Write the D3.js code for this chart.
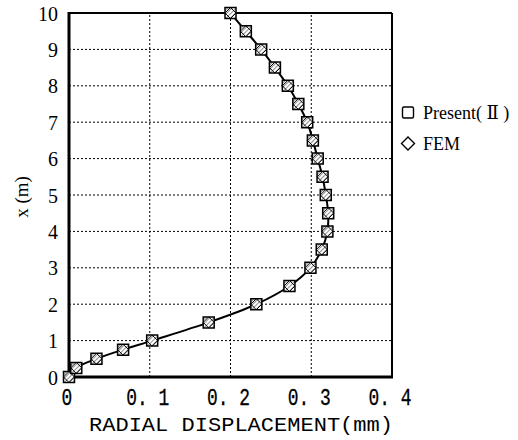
<!DOCTYPE html>
<html lang="en">
  <head>
    <meta charset="utf-8">
    <title>Radial displacement</title>
    <script src="https://d3js.org/d3.v7.min.js"></script>
    <style>
      body { margin: 0; background: #fff; }
    </style>
  </head>
  <body>
    <div id="chart"></div>
    <script type="text/javascript">
      // x (m) along the shell, radial displacement (mm)
      var depth = [0, 0.25, 0.5, 0.75, 1, 1.5, 2, 2.5, 3, 3.5, 4, 4.5, 5, 5.5, 6, 6.5, 7, 7.5, 8, 8.5, 9, 9.5, 10];
      var present = [0, 0.009, 0.034, 0.067, 0.103, 0.173, 0.232, 0.273, 0.299, 0.313, 0.320, 0.321, 0.318, 0.314, 0.308, 0.302, 0.295, 0.284, 0.271, 0.255, 0.238, 0.219, 0.200];
      var fem = [0, 0.009, 0.034, 0.067, 0.103, 0.173, 0.232, 0.273, 0.299, 0.313, 0.320, 0.321, 0.318, 0.314, 0.308, 0.302, 0.295, 0.284, 0.271, 0.255, 0.238, 0.219, 0.200];
      var xTicks = [0, 0.1, 0.2, 0.3, 0.4];
      var xTickLabels = ["0", "0. 1", "0. 2", "0. 3", "0. 4"];
      var yTicks = [0, 1, 2, 3, 4, 5, 6, 7, 8, 9, 10];
      var seriesNames = ["Present( \u2161 )", "FEM"];

      var width = 518,
          height = 440,
          margin = { top: 13, right: 126, bottom: 63, left: 69 },
          msize = 11;

      var svg = d3.select("#chart").append("svg")
                  .attr("width", width)
                  .attr("height", height);

      var defs = svg.append("defs");
      var pat = defs.append("pattern")
                    .attr("id", "hatch")
                    .attr("patternUnits", "userSpaceOnUse")
                    .attr("width", 3).attr("height", 3)
                    .attr("patternTransform", "rotate(45)");
      pat.append("rect").attr("width", 3).attr("height", 3).attr("fill", "#fff");
      pat.append("line").attr("x1", 0).attr("y1", 0).attr("x2", 0).attr("y2", 3)
         .attr("stroke", "#555").attr("stroke-width", 1.3);

      var x = d3.scaleLinear().domain([0, 0.4]).range([margin.left, width - margin.right]);
      var y = d3.scaleLinear().domain([0, 10]).range([height - margin.bottom, margin.top]);

      // grid
      var grid = svg.append("g");
      grid.selectAll("line.gx").data(xTicks.slice(1, -1)).enter().append("line")
          .attr("x1", d => x(d)).attr("x2", d => x(d))
          .attr("y1", y(0)).attr("y2", y(10))
          .attr("stroke", "#000").attr("stroke-width", 1).attr("stroke-dasharray", "2,2");
      grid.selectAll("line.gy").data(yTicks.slice(1, -1)).enter().append("line")
          .attr("x1", x(0)).attr("x2", x(0.4))
          .attr("y1", d => y(d)).attr("y2", d => y(d))
          .attr("stroke", "#000").attr("stroke-width", 1).attr("stroke-dasharray", "2,2");

      // frame
      svg.append("line").attr("x1", x(0)).attr("x2", x(0.4)).attr("y1", y(10)).attr("y2", y(10))
         .attr("stroke", "#000").attr("stroke-width", 2);
      svg.append("line").attr("x1", x(0.4)).attr("x2", x(0.4)).attr("y1", y(10)).attr("y2", y(0))
         .attr("stroke", "#000").attr("stroke-width", 2);
      svg.append("line").attr("x1", x(0)).attr("x2", x(0)).attr("y1", y(10) - 1).attr("y2", y(0) + 1.5)
         .attr("stroke", "#000").attr("stroke-width", 3);
      svg.append("line").attr("x1", x(0)).attr("x2", x(0.4) + 1).attr("y1", y(0)).attr("y2", y(0))
         .attr("stroke", "#000").attr("stroke-width", 3);

      // x tick labels, narrow monospaced like the original
      var xlab = svg.append("g");
      xlab.selectAll("text").data(xTicks).enter().append("text")
          .attr("transform", d => `translate(${x(d) - 2},405) scale(0.78,1)`)
          .attr("text-anchor", "middle")
          .style("font-family", "'Liberation Mono', monospace")
          .style("font-size", "23px")
          .attr("fill", "#000")
          .attr("stroke", "#000").attr("stroke-width", 0.3)
          .text((d, i) => xTickLabels[i]);

      var yAxis = d3.axisLeft(y).tickValues(yTicks).tickSize(0).tickFormat(d3.format("d"));
      svg.append("g").attr("transform", `translate(${x(0) - 8},0)`).call(yAxis)
         .call(g => g.select(".domain").remove())
         .selectAll("text")
         .attr("font-family", "'Liberation Serif', serif")
         .attr("font-size", 20).attr("fill", "#000").attr("dy", "0.35em");

      svg.append("text")
         .attr("x", 89).attr("y", 431)
         .attr("font-family", "'Liberation Mono', monospace")
         .attr("font-size", 21)
         .attr("textLength", 304)
         .attr("lengthAdjust", "spacingAndGlyphs")
         .text("RADIAL DISPLACEMENT(mm)");

      svg.append("text")
         .attr("transform", "translate(28,197) rotate(-90)")
         .attr("text-anchor", "middle")
         .attr("font-family", "'Liberation Serif', serif")
         .attr("font-size", 19)
         .text("x (m)");

      // curve
      var pts = depth.map((d, i) => [present[i], d]);
      var line = d3.line().x(d => x(d[0])).y(d => y(d[1])).curve(d3.curveCatmullRom.alpha(0.5));
      svg.append("path").datum(pts).attr("d", line)
         .attr("fill", "none").attr("stroke", "#000").attr("stroke-width", 2);

      // markers
      var sq = d3.symbol().type(d3.symbolSquare).size(msize * msize);
      var dm = function (s) {
        return `M0,${-s}L${s},0L0,${s}L${-s},0Z`;
      };
      svg.append("g").selectAll("path").data(depth).enter().append("path")
         .attr("d", sq)
         .attr("transform", (d, i) => `translate(${x(present[i])},${y(d)})`)
         .attr("fill", "url(#hatch)").attr("stroke", "#000").attr("stroke-width", 1.5);
      svg.append("g").selectAll("path").data(depth).enter().append("path")
         .attr("d", dm(msize / 2))
         .attr("transform", (d, i) => `translate(${x(fem[i])},${y(d)})`)
         .attr("fill", "none").attr("stroke", "#000").attr("stroke-width", 1);

      // legend
      var leg = svg.append("g").attr("transform", "translate(408,0)");
      leg.append("rect").attr("x", -5.5).attr("y", 107).attr("width", 11).attr("height", 11)
         .attr("rx", 1.5).attr("fill", "#fff").attr("stroke", "#000").attr("stroke-width", 1.4);
      leg.append("path").attr("d", dm(6.5)).attr("transform", "translate(0,143.5)")
         .attr("fill", "#fff").attr("stroke", "#000").attr("stroke-width", 1.4);
      leg.selectAll("text").data(seriesNames).enter().append("text")
         .attr("x", 15).attr("y", (d, i) => 119 + i * 31)
         .attr("font-family", "'Liberation Serif', 'DejaVu Serif', serif")
         .attr("font-size", 18)
         .text(d => d);
    </script>
  </body>
</html>
